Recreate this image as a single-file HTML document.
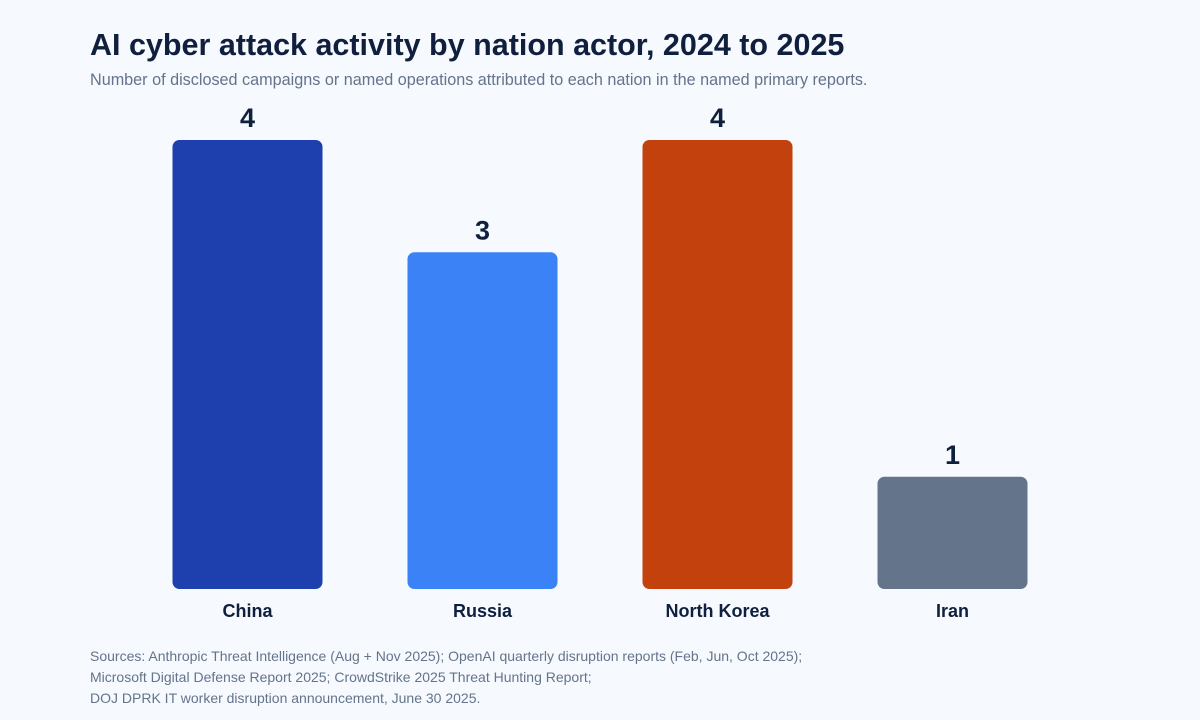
<!DOCTYPE html>
<html><head><meta charset="utf-8"><style>
body{margin:0;background:#f6f9fe;font-family:"Liberation Sans",sans-serif;}
#wrap{position:relative;width:1200px;height:720px;overflow:hidden;}
.t{position:absolute;left:90px;margin:0;white-space:nowrap;}
</style></head><body>
<div id="wrap">
<h1 class="t" style="top:28px;font-size:30.5px;font-weight:bold;color:#0f1f3d;">AI cyber attack activity by nation actor, 2024 to 2025</h1>
<div class="t" style="top:71px;font-size:16.2px;color:#64748b;">Number of disclosed campaigns or named operations attributed to each nation in the named primary reports.</div>
<svg id="chart" width="1200" height="720" style="position:absolute;left:0;top:0;"></svg>
<div class="t" style="top:646px;font-size:14px;line-height:21px;color:#64748b;">Sources: Anthropic Threat Intelligence (Aug + Nov 2025); OpenAI quarterly disruption reports (Feb, Jun, Oct 2025);<br>Microsoft Digital Defense Report 2025; CrowdStrike 2025 Threat Hunting Report;<br>DOJ DPRK IT worker disruption announcement, June 30 2025.</div>
</div>
<script>
const categories=["China","Russia","North Korea","Iran"];
const values=[4,3,4,1];
const colors=["#1e40af","#3b82f6","#c2410c","#64748b"];
const ns="http://www.w3.org/2000/svg";
const svg=document.getElementById('chart');
const x0=130,band=235,bw=150,yBase=589,perUnit=112.25;
const xs=i=>x0+band*i+band/2;
const ys=v=>yBase-v*perUnit;
categories.forEach((c,i)=>{
  const cx=xs(i),top=ys(values[i]);
  const r=document.createElementNS(ns,'rect');
  r.setAttribute('x',cx-bw/2);r.setAttribute('y',top);r.setAttribute('width',bw);
  r.setAttribute('height',yBase-top);r.setAttribute('rx',7);r.setAttribute('fill',colors[i]);
  
  
  svg.appendChild(r);
  const v=document.createElementNS(ns,'text');
  v.setAttribute('x',cx);v.setAttribute('y',top-13);v.setAttribute('text-anchor','middle');
  v.setAttribute('font-size','27');v.setAttribute('font-weight','bold');v.setAttribute('fill','#0f1f3d');
  v.setAttribute('font-family','Liberation Sans, sans-serif');
  v.textContent=values[i];
  
  
  svg.appendChild(v);
  const l=document.createElementNS(ns,'text');
  l.setAttribute('x',cx);l.setAttribute('y',617);l.setAttribute('text-anchor','middle');
  l.setAttribute('font-size','18');l.setAttribute('font-weight','bold');l.setAttribute('fill','#0f1f3d');
  l.setAttribute('font-family','Liberation Sans, sans-serif');
  l.textContent=c;
  
  
  svg.appendChild(l);
});
</script>
</body></html>
